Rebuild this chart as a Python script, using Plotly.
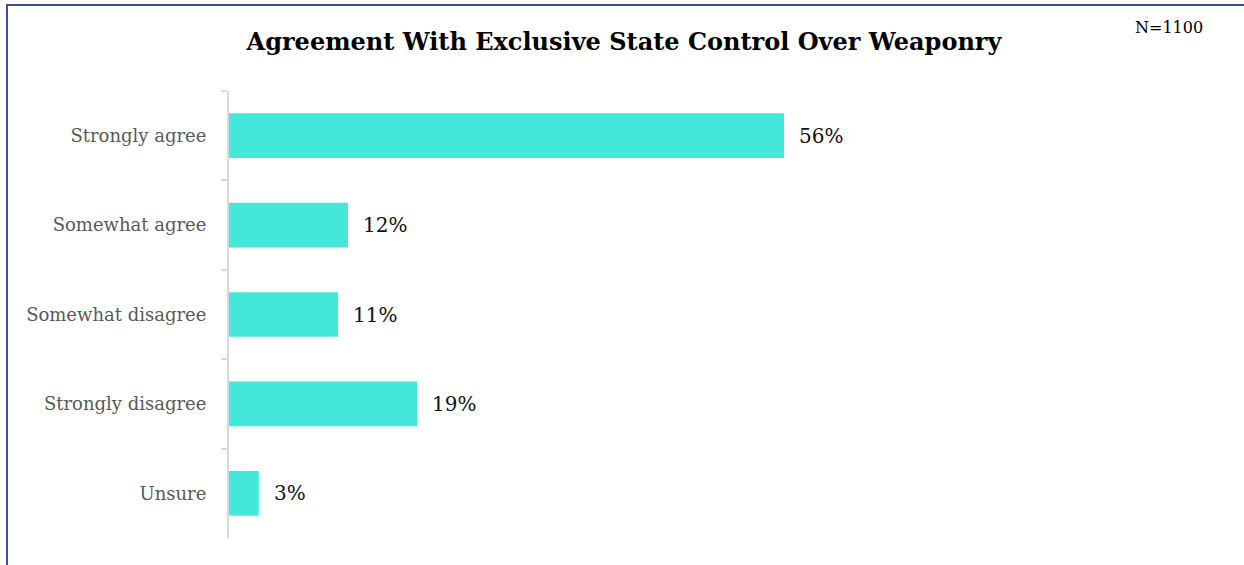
import plotly.graph_objects as go

categories = ["Strongly agree", "Somewhat agree", "Somewhat disagree", "Strongly disagree", "Unsure"]
values = [56, 12, 11, 19, 3]
value_labels = ["56%", "12%", "11%", "19%", "3%"]

title_text = "Agreement With Exclusive State Control Over Weaponry"
sample_note = "N=1100"

SERIF = "DejaVu Serif"
BAR_COLOR = "#43E8D8"
FRAME_COLOR = "#3A4FA5"
AXIS_COLOR = "#D9D9D9"

W, H = 1244, 565
M_L, M_R, M_T, M_B = 229, 24, 91, 27
plot_w = W - M_L - M_R
plot_h = H - M_T - M_B


def px_x(px):
    """Convert a horizontal pixel position to paper coordinates."""
    return (px - M_L) / plot_w


def px_y(py):
    """Convert a vertical pixel position (from top) to paper coordinates."""
    return (H - M_B - py) / plot_h


fig = go.Figure(
    go.Bar(
        x=values,
        y=categories,
        orientation="h",
        marker=dict(color=BAR_COLOR, line=dict(width=0)),
        hoverinfo="skip",
    )
)

# value labels to the right of each bar
for cat, val, lab in zip(categories, values, value_labels):
    fig.add_annotation(
        x=val, y=cat, text=lab, showarrow=False,
        xanchor="left", yanchor="middle", xshift=13,
        font=dict(family=SERIF, size=20, color="#111111"),
    )

# sample size note, top right
fig.add_annotation(
    x=px_x(1205), y=px_y(27), xref="paper", yref="paper",
    text=sample_note, showarrow=False, xanchor="right", yanchor="middle",
    font=dict(family=SERIF, size=16, color="#000000"),
)

# frame lines along the top and left edges
fig.add_shape(type="line", xref="paper", yref="paper",
              x0=px_x(7), x1=px_x(7), y0=px_y(4), y1=px_y(566),
              line=dict(color=FRAME_COLOR, width=2))
fig.add_shape(type="line", xref="paper", yref="paper",
              x0=px_x(6), x1=px_x(1245), y0=px_y(5), y1=px_y(5),
              line=dict(color=FRAME_COLOR, width=2))

fig.update_layout(
    width=W, height=H,
    margin=dict(l=M_L, r=M_R, t=M_T, b=M_B),
    paper_bgcolor="white", plot_bgcolor="white",
    bargap=0.5,
    showlegend=False,
    title=dict(
        text="<b>" + title_text + "</b>",
        x=624 / W, xanchor="center",
        y=1 - 42 / H, yanchor="middle",
        font=dict(family=SERIF, size=24, color="#000000"),
    ),
    xaxis=dict(range=[0, 100], visible=False, fixedrange=True),
    yaxis=dict(
        autorange="reversed",
        showline=True, linecolor=AXIS_COLOR, linewidth=2,
        ticks="outside", tickson="boundaries", ticklen=6,
        tickcolor=AXIS_COLOR, tickwidth=2,
        ticklabelstandoff=17,
        showgrid=False, zeroline=False,
        tickfont=dict(family=SERIF, size=18, color="#595959"),
    ),
)

fig.write_html("out.html", config={"displayModeBar": False})
